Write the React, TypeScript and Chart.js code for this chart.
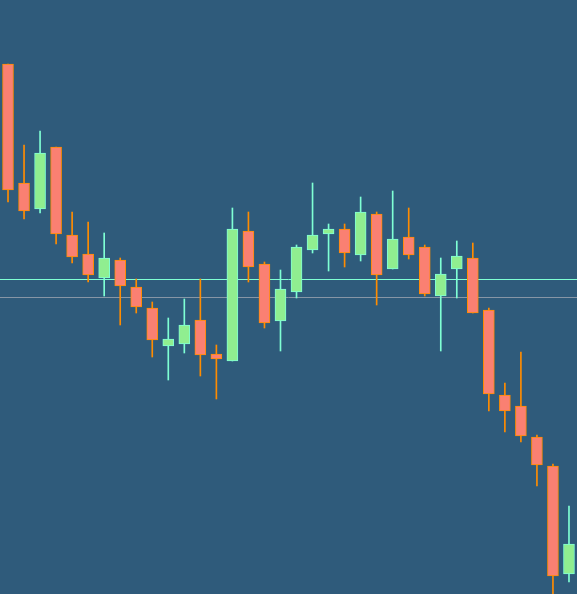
import React, { useEffect, useRef } from "react";
import { Chart, registerables } from "chart.js";

Chart.register(...registerables);

const labels = Array.from({ length: 36 }, (_, i) => `D${i + 1}`);
const opens = [46.5, 40.55, 39.25, 42.35, 37.95, 37.0, 35.8, 36.7, 35.35, 34.3, 32.4, 32.5, 33.7, 32.0, 31.65, 38.15, 36.5, 33.65, 35.1, 37.2, 38.0, 38.25, 36.95, 39.0, 36.25, 37.85, 37.35, 34.9, 36.25, 36.8, 34.2, 29.95, 29.4, 27.85, 26.4, 21.0];
const highs = [46.5, 42.45, 43.15, 42.35, 39.1, 38.6, 38.05, 36.8, 35.75, 34.6, 33.8, 34.75, 35.75, 32.45, 39.3, 39.1, 36.6, 36.2, 37.45, 40.55, 38.5, 38.5, 39.85, 39.1, 40.15, 39.3, 37.45, 36.8, 37.65, 37.55, 34.3, 30.55, 32.1, 27.95, 26.5, 24.4];
const lows = [39.6, 38.75, 39.05, 37.5, 36.55, 35.6, 34.9, 33.45, 34.05, 31.85, 30.7, 32.05, 30.9, 29.75, 31.65, 35.6, 33.3, 32.15, 34.8, 37.05, 36.15, 36.35, 36.65, 34.45, 36.25, 36.75, 34.9, 32.15, 34.8, 34.05, 29.15, 28.1, 27.6, 25.4, 19.8, 20.6];
const closes = [40.2, 39.15, 42.05, 38.0, 36.85, 35.95, 36.8, 35.4, 34.35, 32.7, 32.75, 33.45, 31.95, 31.75, 38.25, 36.35, 33.55, 35.25, 37.35, 37.95, 38.25, 37.05, 39.1, 35.95, 37.75, 36.95, 35.0, 36.0, 36.9, 34.05, 30.0, 29.15, 27.9, 26.45, 20.9, 22.5];
const levels = [35.75, 34.85];
const levelColors = ["#7fffd4", "#8796a6"];

const UP_FILL = "#90ee90";
const UP_LINE = "#7fffd4";
const DOWN_FILL = "#fa8072";
const DOWN_LINE = "#ff8c00";
const BG = "#2f5b7b";

export default function App() {
  const ref = useRef<HTMLCanvasElement | null>(null);

  useEffect(() => {
    document.body.style.margin = "0";
    document.body.style.background = BG;
    const canvas = ref.current;
    if (!canvas) return;
    const isUp = opens.map((o, i) => closes[i] >= o);

    const bgPlugin = {
      id: "bg",
      beforeDraw(chart: any) {
        const { ctx, width, height } = chart;
        ctx.save();
        ctx.fillStyle = BG;
        ctx.fillRect(0, 0, width, height);
        ctx.restore();
      },
    };
    const levelPlugin = {
      id: "levels",
      beforeDatasetsDraw(chart: any) {
        const { ctx, chartArea } = chart;
        const y = chart.scales.y;
        ctx.save();
        ctx.lineWidth = 1;
        levels.forEach((lv, i) => {
          const py = Math.round(y.getPixelForValue(lv)) + 0.5;
          ctx.strokeStyle = levelColors[i];
          ctx.beginPath();
          ctx.moveTo(chartArea.left, py);
          ctx.lineTo(chartArea.right, py);
          ctx.stroke();
        });
        ctx.restore();
      },
    };

    const chart = new Chart(canvas, {
      type: "bar",
      data: {
        labels,
        datasets: [
          {
            label: "body",
            data: opens.map((o, i) => [o, closes[i]]) as any,
            backgroundColor: isUp.map((u) => (u ? UP_FILL : DOWN_FILL)),
            borderColor: isUp.map((u) => (u ? UP_LINE : DOWN_LINE)),
            borderWidth: 1,
            borderSkipped: false,
            barThickness: 11,
            grouped: false,
            order: 1,
          } as any,
          {
            label: "wick",
            data: lows.map((l, i) => [l, highs[i]]) as any,
            backgroundColor: isUp.map((u) => (u ? UP_LINE : DOWN_LINE)),
            borderWidth: 0,
            barThickness: 1,
            grouped: false,
            order: 2,
          } as any,
        ],
      },
      options: {
        animation: false,
        responsive: false,
        maintainAspectRatio: false,
        layout: { padding: 0 },
        plugins: { legend: { display: false }, tooltip: { enabled: false } },
        scales: {
          x: { display: false, offset: true },
          y: { display: false, min: 20, max: 49.7 },
        },
      },
      plugins: [bgPlugin, levelPlugin],
    });
    return () => chart.destroy();
  }, []);

  return (
    <div style={{ width: 577, height: 594, background: BG }}>
      <canvas ref={ref} width={577} height={594} style={{ display: "block", width: 577, height: 594 }} />
    </div>
  );
}
